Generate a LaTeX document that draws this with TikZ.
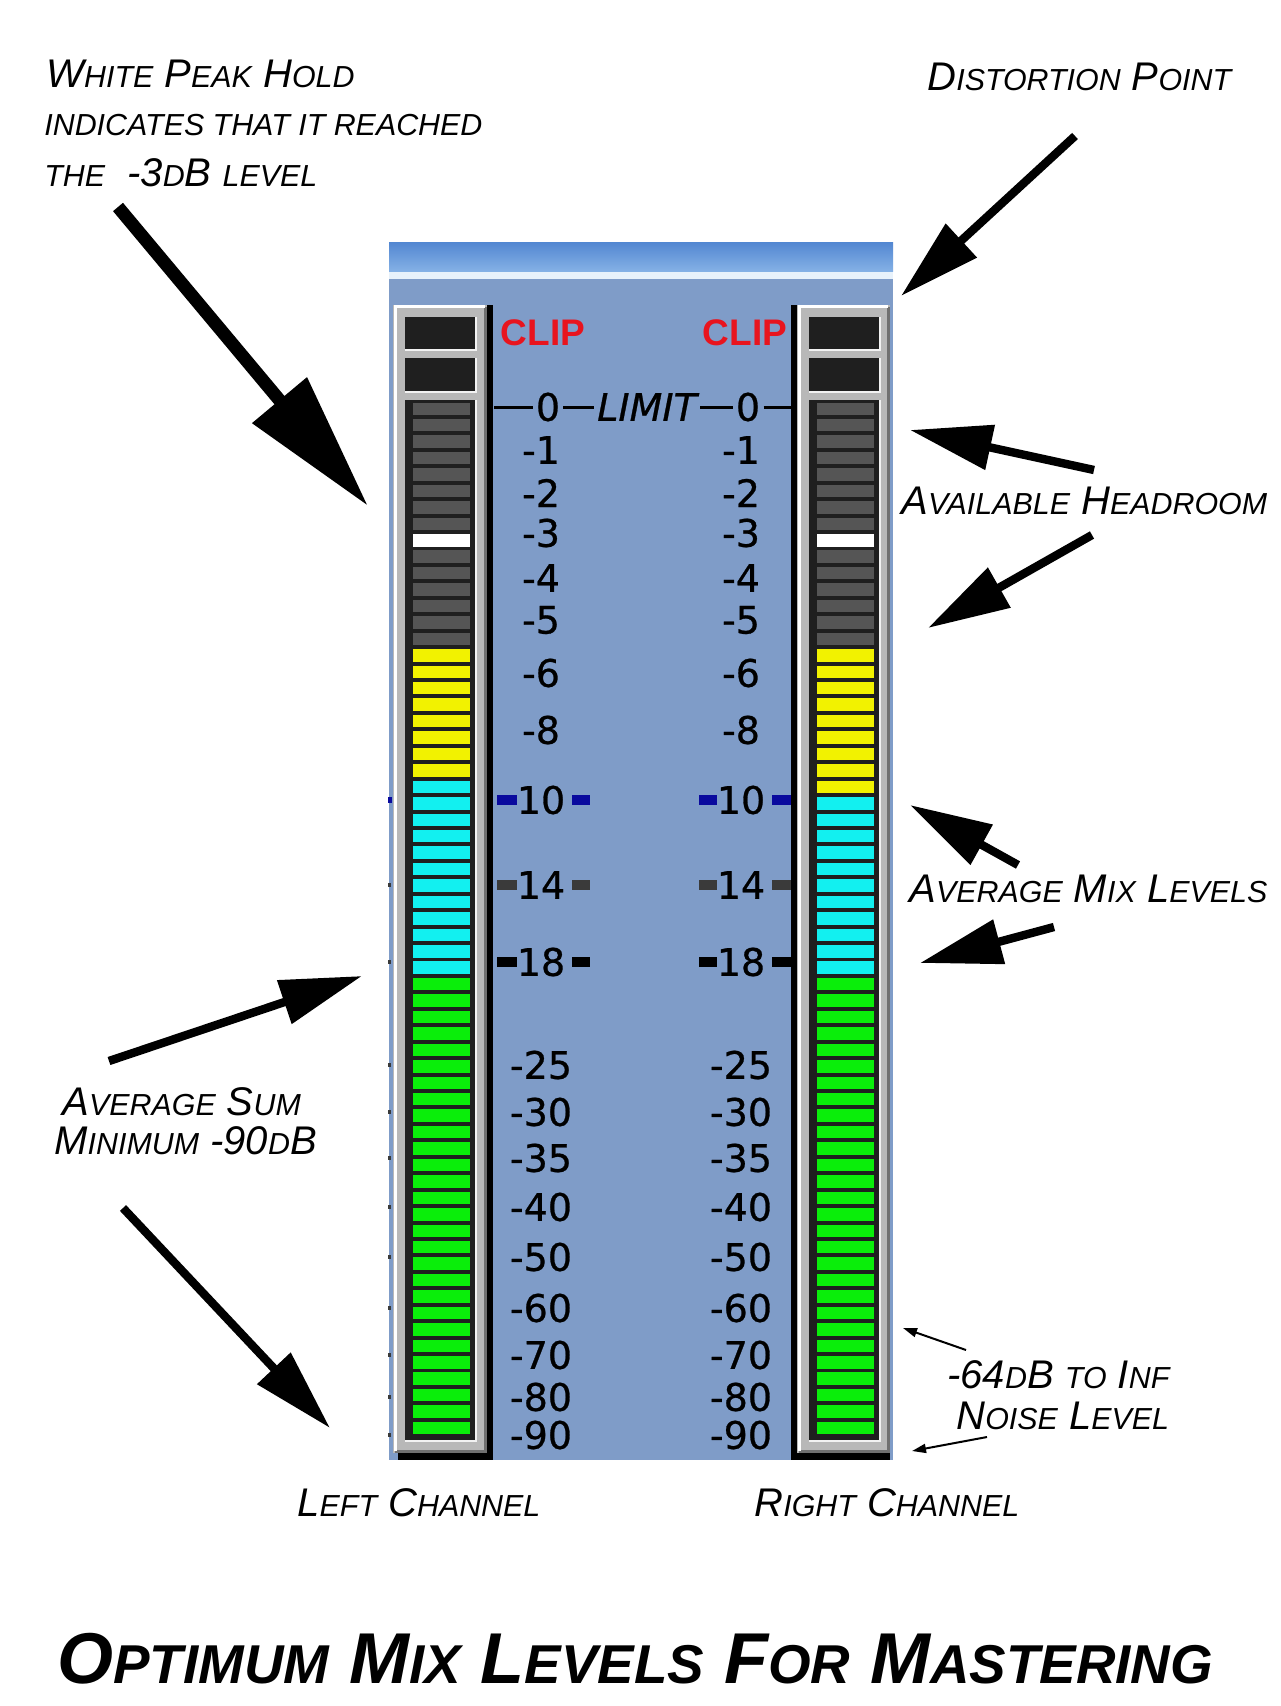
\documentclass[tikz,border=0pt]{standalone}
\usepackage{fontspec}
\setmainfont{Liberation Sans}
\newfontfamily\meterfont[FakeBold=0.7]{DejaVu Sans}
\usetikzlibrary{arrows.meta}
\definecolor{panelBlue}{HTML}{7F9CC8}
\definecolor{barBlue}{HTML}{5488D2}
\definecolor{barLight}{HTML}{86B2E6}
\definecolor{barPale}{HTML}{E8F2FB}
\definecolor{frameGray}{HTML}{B8B8B8}
\definecolor{frameDark}{HTML}{707070}
\definecolor{ledGray}{HTML}{555555}
\definecolor{ledYellow}{HTML}{F2F200}
\definecolor{ledCyan}{HTML}{12F0F0}
\definecolor{ledGreen}{HTML}{0AEE0A}
\definecolor{clipRed}{HTML}{E8141E}
\definecolor{markNavy}{HTML}{0A0A9E}
\definecolor{markGray}{HTML}{3A3A3A}
\makeatletter
\newdimen\lowcapdim
\newcommand\lowcap[1]{{\lowcapdim=\f@size pt\lowcapdim=0.76\lowcapdim\fontsize{\the\lowcapdim}{\the\lowcapdim}\selectfont #1}}
\makeatother
\tikzset{
  notetext/.style={font=\itshape\fontsize{20}{24}\selectfont,anchor=base west,inner sep=0pt},
  titletext/.style={font=\bfseries\itshape\fontsize{36}{40}\selectfont,anchor=base west,inner sep=0pt},
  scalenum/.style={font=\meterfont\fontsize{19}{21}\selectfont,inner sep=0pt},
  limitnum/.style={font=\meterfont\fontsize{19}{21}\selectfont,inner sep=1.5pt},
  cliplabel/.style={font=\bfseries\fontsize{18.5}{20}\selectfont,text=clipRed,inner sep=0pt},
  bigarrow/.style={-{Triangle[length=69pt,width=34pt]},line width=6.5pt},
  midarrow/.style={-{Triangle[length=41pt,width=22pt]},line width=4.2pt},
  thinarrow/.style={-{Triangle[length=7pt,width=4.5pt]},line width=1pt},
}
\begin{document}
\begin{tikzpicture}[x=0.5pt,y=-0.5pt]
  \fill[white] (0,0) rectangle (1280,1706);
  \useasboundingbox (0,0) rectangle (1280,1706);

  % meter panel
  \fill[panelBlue] (389,243) rectangle (893,1460);
  \shade[top color=barBlue, bottom color=barLight] (389,243) rectangle (893,272);
  \fill[barPale] (389,272) rectangle (893,279);
  \foreach \yy in {885,962,1065,1112,1158,1207,1257,1308,1355,1397,1435}
    \fill[markGray] (388,\yy-2) rectangle (391,\yy+2);
  \fill[markNavy] (388,797) rectangle (392,803);

  % the two bar meters
  \foreach \fl/\fr/\bl/\br/\il/\ir/\cy in {393/487/398/493/405/476/23, 797/890/791/890/809/880/24} {
    \fill[black] (\bl,305) rectangle (\br,1460);
    \fill[frameGray] (\fl,305) rectangle (\fr,1453);
    \draw[frameDark, line width=1.5pt] (\fl+2,1451) -| (\fr-2,307);
    \draw[white, line width=1.5pt] (\fl+2,1451) |- (\fr-2,307);
    \foreach \ty/\by in {317/350, 358/392, 400/1441} {
      \fill[black!88] (\il,\ty) rectangle (\ir,\by);
      \draw[white!90!gray, line width=1.2pt] (\il,\by) -| (\ir,\ty);
    }
    \foreach \k in {0,...,62} {
      \pgfmathsetmacro\st{402.5+16.44*\k}
      \ifnum\k<15 \def\segcol{ledGray}\else
        \ifnum\k<\cy \def\segcol{ledYellow}\else
          \ifnum\k<35 \def\segcol{ledCyan}\else \def\segcol{ledGreen}\fi\fi\fi
      \ifnum\k=8 \def\segcol{white}\fi
      \fill[\segcol] (\il+8,\st) rectangle (\ir-6,\st+12.5);
    }
  }

  % scale
  \node[cliplabel] (clipL) at (543,333) {CLIP};
  \node[cliplabel] (clipR) at (745,333) {CLIP};
  \coordinate (limA) at (494,407);
  \coordinate (limB) at (791,407);
  \node[limitnum] (zeroL) at (548,407) {0};
  \node[limitnum, font=\meterfont\itshape\fontsize{19}{21}\selectfont] (limit) at (647,407) {LIMIT};
  \node[limitnum] (zeroR) at (748,407) {0};
  \draw[line width=1.5pt] (limA) -- (zeroL) -- (limit) -- (zeroR) -- (limB);
  \foreach \lab/\yy in {-1/450,-2/493,-3/533,-4/578,-5/620,-6/673,-8/730,10/800,14/885,18/962,
                        -25/1065,-30/1112,-35/1158,-40/1207,-50/1257,-60/1308,-70/1355,-80/1397,-90/1435} {
    \node[scalenum] (numL\yy) at (541,\yy) {\lab};
    \node[scalenum] (numR\yy) at (741,\yy) {\lab};
  }
  \foreach \yy/\cc in {800/markNavy, 885/markGray, 962/black} {
    \fill[\cc] (497,\yy-5) rectangle (517,\yy+5);
    \fill[\cc] (572,\yy-5) rectangle (590,\yy+5);
    \fill[\cc] (699,\yy-5) rectangle (717,\yy+5);
    \fill[\cc] (772,\yy-5) rectangle (791,\yy+5);
  }

  % notes
  \node[notetext] (peakA) at (46,88) {W\lowcap{HITE} P\lowcap{EAK} H\lowcap{OLD}};
  \node[notetext] (peakB) at (44,136) {\lowcap{INDICATES THAT IT REACHED}};
  \node[notetext] (peakC) at (44,187) {\lowcap{THE}\ \ -3\lowcap{D}B \lowcap{LEVEL}};
  \node[notetext] (distort) at (927,91) {D\lowcap{ISTORTION} P\lowcap{OINT}};
  \node[notetext] (headroom) at (901,514) {A\lowcap{VAILABLE} H\lowcap{EADROOM}};
  \node[notetext] (mixlev) at (909,902) {A\lowcap{VERAGE} M\lowcap{IX} L\lowcap{EVELS}};
  \node[notetext] (sumA) at (62,1115) {A\lowcap{VERAGE} S\lowcap{UM}};
  \node[notetext] (sumB) at (54,1154) {M\lowcap{INIMUM} -90\lowcap{D}B};
  \node[notetext] (noiseA) at (947,1388) {-64\lowcap{D}B \lowcap{TO} I\lowcap{NF}};
  \node[notetext] (noiseB) at (956,1429) {N\lowcap{OISE} L\lowcap{EVEL}};
  \node[notetext] (leftch) at (297,1516) {L\lowcap{EFT} C\lowcap{HANNEL}};
  \node[notetext] (rightch) at (754,1516) {R\lowcap{IGHT} C\lowcap{HANNEL}};
  \node[titletext] (title) at (57,1683) {O\lowcap{PTIMUM} M\lowcap{IX} L\lowcap{EVELS} F\lowcap{OR} M\lowcap{ASTERING}};

  % pointers
  \coordinate (peakTail) at (118,207);     \coordinate (peakTip) at (368,506);
  \coordinate (distTail) at (1075,136);    \coordinate (distTip) at (901,296);
  \coordinate (headUpTail) at (1094,470);  \coordinate (headUpTip) at (910,430);
  \coordinate (headDnTail) at (1092,535);  \coordinate (headDnTip) at (928,628);
  \coordinate (mixUpTail) at (1018,865);   \coordinate (mixUpTip) at (910,805);
  \coordinate (mixDnTail) at (1054,927);   \coordinate (mixDnTip) at (920,963);
  \coordinate (sumUpTail) at (109,1061);   \coordinate (sumUpTip) at (362,976);
  \coordinate (sumDnTail) at (123,1208);   \coordinate (sumDnTip) at (330,1428);
  \coordinate (noiseUpTail) at (966,1350); \coordinate (noiseUpTip) at (903,1328);
  \coordinate (noiseDnTail) at (987,1437); \coordinate (noiseDnTip) at (912,1451);
  \draw[bigarrow] (peakTail) -- (peakTip);
  \draw[midarrow] (distTail) -- (distTip);
  \draw[midarrow] (headUpTail) -- (headUpTip);
  \draw[midarrow] (headDnTail) -- (headDnTip);
  \draw[midarrow] (mixUpTail) -- (mixUpTip);
  \draw[midarrow] (mixDnTail) -- (mixDnTip);
  \draw[midarrow] (sumUpTail) -- (sumUpTip);
  \draw[midarrow] (sumDnTail) -- (sumDnTip);
  \draw[thinarrow] (noiseUpTail) -- (noiseUpTip);
  \draw[thinarrow] (noiseDnTail) -- (noiseDnTip);
\end{tikzpicture}
\end{document}
